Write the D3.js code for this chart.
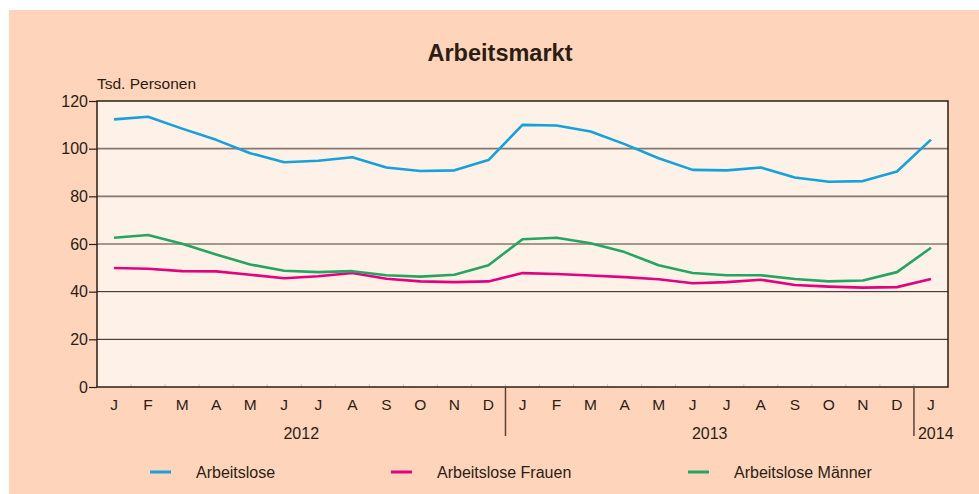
<!DOCTYPE html>
<html>
<head>
<meta charset="utf-8">
<script src="https://cdn.jsdelivr.net/npm/d3@7"></script>
<style>
body { margin: 0; background: #fff; }
svg text { font-family: "Liberation Sans", Arial, sans-serif; fill: #2b1d14; }
</style>
</head>
<body>
<div id="chart"></div>
<script>
// months Jan 2012 .. Jan 2014
var months = ["J","F","M","A","M","J","J","A","S","O","N","D",
              "J","F","M","A","M","J","J","A","S","O","N","D","J"]
var years = [{"label": "2012", "from": 0, "to": 12}, {"label": "2013", "from": 12, "to": 24}, {"label": "2014", "from": 24, "to": 25}]
var y_ticks = [0, 20, 40, 60, 80, 100, 120]

var arbeitslose = [112.3, 113.4, 108.4, 103.7, 98.1, 94.3, 94.9, 96.4, 92.1, 90.6, 90.9, 95.2,
                   110.0, 109.7, 107.2, 101.9, 96.0, 91.1, 90.9, 92.1, 87.9, 86.1, 86.4, 90.4, 103.8]
var frauen = [49.9, 49.6, 48.6, 48.5, 47.1, 45.6, 46.5, 47.8, 45.4, 44.3, 44.0, 44.3,
              47.8, 47.4, 46.8, 46.1, 45.2, 43.5, 44.0, 45.0, 42.8, 42.1, 41.7, 41.9, 45.3]
var maenner = [62.6, 63.8, 60.1, 55.6, 51.4, 48.8, 48.2, 48.6, 46.9, 46.3, 47.1, 51.1,
               62.0, 62.6, 60.3, 56.6, 51.1, 47.8, 46.9, 46.9, 45.3, 44.3, 44.7, 48.2, 58.4]

var series = [
    {"name": "Arbeitslose", "values": arbeitslose, "color": "#14a1dc"},
    {"name": "Arbeitslose Frauen", "values": frauen, "color": "#e4007f"},
    {"name": "Arbeitslose Männer", "values": maenner, "color": "#25a562"}
]

var width = 979, height = 494
var margin = { top: 101, right: 31, bottom: 107, left: 97 }
var plot_w = width - margin.left - margin.right
var plot_h = height - margin.top - margin.bottom

var svg = d3.select("#chart").append("svg")
    .attr("width", width)
    .attr("height", height)

// outer background
svg.append("rect").attr("x", 9).attr("y", 10).attr("width", width - 9).attr("height", height - 10).attr("fill", "#fed5ba")

svg.append("text").attr("x", 500).attr("y", 61).attr("text-anchor", "middle")
    .style("font-size", "23.5px").style("font-weight", "bold").text("Arbeitsmarkt")

var g = svg.append("g").attr("transform", `translate(${margin.left}, ${margin.top})`)

var x = d3.scaleBand().domain(d3.range(months.length)).range([0, plot_w])
var y = d3.scaleLinear().domain([0, 120]).range([plot_h, 0])

g.append("rect").attr("width", plot_w).attr("height", plot_h).attr("fill", "#fdf1e8")

// gridlines
g.selectAll(".grid").data(y_ticks.filter(function (d) { return d > 0 && d < 120 }))
    .enter().append("line")
    .attr("x1", 0).attr("x2", plot_w)
    .attr("y1", function (d) { return y(d) }).attr("y2", function (d) { return y(d) })
    .attr("stroke", function (d) { return d >= 60 ? "#857870" : "#2b1d14" })
    .attr("stroke-width", function (d) { return d >= 60 ? 1.6 : 1 })

// small ticks on bottom between months
g.selectAll(".mtick").data(d3.range(1, months.length))
    .enter().append("line")
    .attr("x1", function (d) { return x(d) }).attr("x2", function (d) { return x(d) })
    .attr("y1", plot_h - 3).attr("y2", plot_h)
    .attr("stroke", "#d9c8bc").attr("stroke-width", 1)

// frame
g.append("rect").attr("width", plot_w).attr("height", plot_h).attr("fill", "none")
    .attr("stroke", "#2b1d14").attr("stroke-width", 1.5)

// y axis
var y_axis = g.append("g").call(d3.axisLeft(y).tickValues(y_ticks).tickSize(8).tickPadding(1))
y_axis.select(".domain").remove()
y_axis.selectAll("line").attr("stroke", "#2b1d14").attr("stroke-width", 1.2)
y_axis.selectAll("text").style("font-size", "16px").attr("fill", "#2b1d14")
    .attr("font-family", "Liberation Sans, Arial, sans-serif")

svg.append("text").attr("x", 97).attr("y", 89).style("font-size", "15.5px").text("Tsd. Personen")

// month labels
g.selectAll(".month").data(months).enter().append("text")
    .attr("x", function (d, i) { return x(i) + x.bandwidth() / 2 })
    .attr("y", plot_h + 23)
    .attr("text-anchor", "middle")
    .style("font-size", "15.5px")
    .text(function (d) { return d })

// year separators + labels
g.selectAll(".ysep").data(years.slice(1)).enter().append("line")
    .attr("x1", function (d) { return x(d.from) }).attr("x2", function (d) { return x(d.from) })
    .attr("y1", plot_h).attr("y2", plot_h + 49)
    .attr("stroke", "#5a4438").attr("stroke-width", 1.5)

g.selectAll(".year").data(years).enter().append("text")
    .attr("x", function (d) {
        if (d.to - d.from < 2) return x(d.from) + 4
        return (x(d.from) + x(d.to - 1) + x.bandwidth()) / 2
    })
    .attr("y", plot_h + 52)
    .attr("text-anchor", function (d) { return d.to - d.from < 2 ? "start" : "middle" })
    .style("font-size", "16px")
    .text(function (d) { return d.label })

// lines
var line = d3.line()
    .x(function (d, i) { return x(i) + x.bandwidth() / 2 })
    .y(function (d) { return y(d) })

g.selectAll(".series").data(series).enter().append("path")
    .attr("d", function (d) { return line(d.values) })
    .attr("fill", "none")
    .attr("stroke", function (d) { return d.color })
    .attr("stroke-width", 2.6)
    .attr("stroke-linejoin", "round")

// legend
var legend_x = [150, 391, 688]
var legend = svg.selectAll(".legend").data(series).enter().append("g")
    .attr("transform", function (d, i) { return `translate(${legend_x[i]}, 472)` })
legend.append("line").attr("x1", 0).attr("x2", 21).attr("y1", 0).attr("y2", 0)
    .attr("stroke", function (d) { return d.color }).attr("stroke-width", 3)
legend.append("text").attr("x", 46).attr("y", 5.5).style("font-size", "16px")
    .text(function (d) { return d.name })
</script>
</body>
</html>
